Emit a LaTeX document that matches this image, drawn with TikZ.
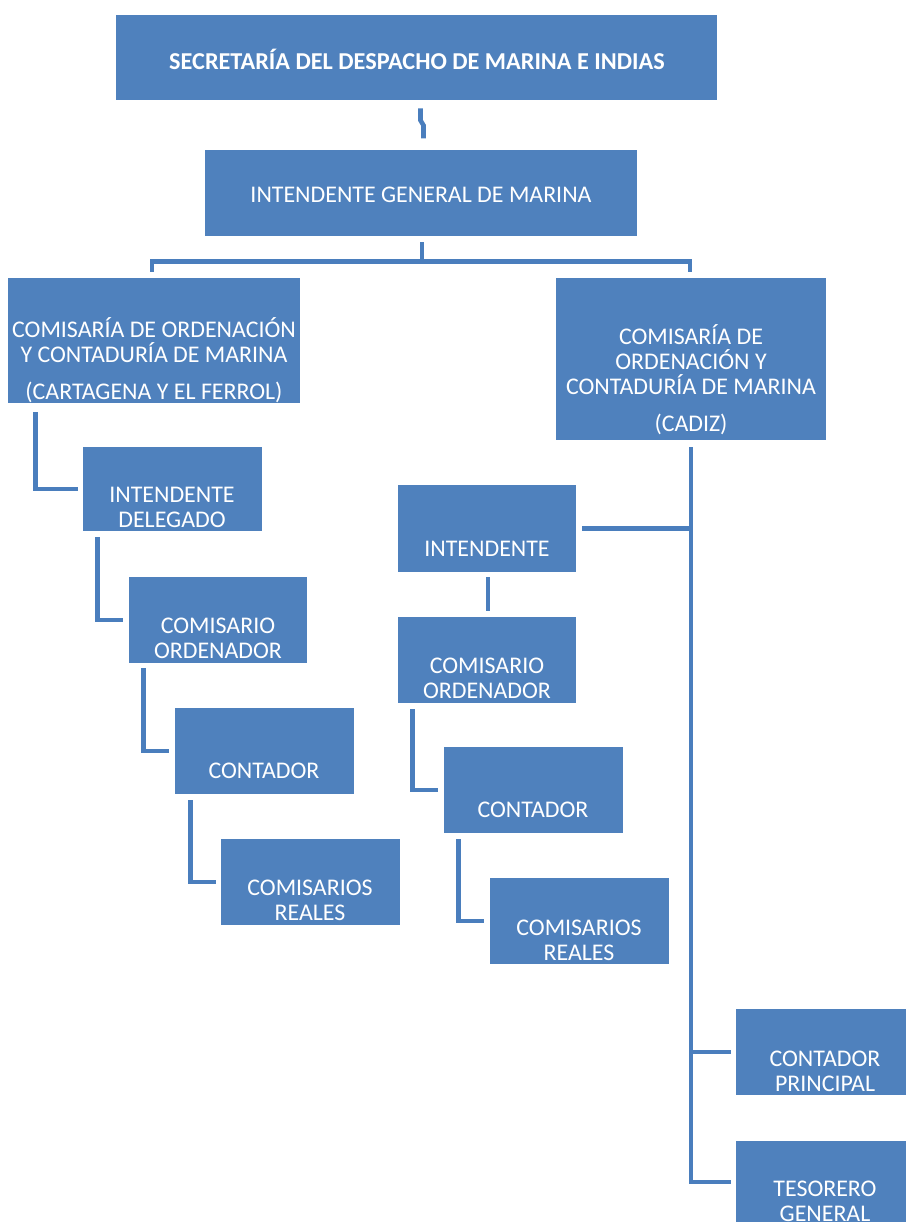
\documentclass[tikz,border=0pt]{standalone}
\usepackage{fontspec}
\setmainfont{Carlito}
\usetikzlibrary{calc,fit}

\definecolor{boxblue}{RGB}{79,129,189}
\definecolor{lineblue}{RGB}{74,126,189}

\tikzset{
	box/.style={fill=boxblue, inner sep=0pt},
	txt/.style={text=white, align=center, inner sep=0pt, font=\fontsize{13.6}{14.2}\selectfont},
	conn/.style={draw=lineblue, line width=2.6pt},
}

\begin{document}
\begin{tikzpicture}[x=0.02cm, y=-0.02cm]
	
	\useasboundingbox (0,0) rectangle (905,1222);
	
	% boxes
	\node[box, fit={(116,15) (717,100)}] (secr) {};
	\node[box, fit={(205,150) (637,236)}] (intgen) {};
	\node[box, fit={(8,278) (300,403)}] (comisl) {};
	\node[box, fit={(556,278) (826,440)}] (comisr) {};
	
	\node[box, fit={(83,447) (262,531)}] (deleg) {};
	\node[box, fit={(129,577) (307,663)}] (ordl) {};
	\node[box, fit={(175,708) (354,794)}] (contl) {};
	\node[box, fit={(221,839) (400,925)}] (reall) {};
	
	\node[box, fit={(398,485) (576,572)}] (intd) {};
	\node[box, fit={(398,617) (576,703)}] (ordr) {};
	\node[box, fit={(444,747) (623,833)}] (contr) {};
	\node[box, fit={(490,878) (669,964)}] (realr) {};
	
	\node[box, fit={(736,1009) (915,1095)}] (contp) {};
	\node[box, fit={(736,1141) (915,1227)}] (teso) {};
	
	% texts
	\node[txt, font=\fontsize{13.8}{14.2}\selectfont\bfseries] (secrt) at (417,59) {SECRETARÍA DEL DESPACHO DE MARINA E INDIAS};
	\node[txt] (intgent) at (421,195) {INTENDENTE GENERAL DE MARINA};
	\node[txt] (comislt) at (154,360) {COMISARÍA DE ORDENACIÓN\\ Y CONTADURÍA DE MARINA\\[6.8pt] (CARTAGENA Y EL FERROL)};
	\node[txt] (comisrt) at (691,380) {COMISARÍA DE\\ ORDENACIÓN Y\\ CONTADURÍA DE MARINA\\[7pt] (CADIZ)};
	
	\node[txt] (delegt) at (172,507) {INTENDENTE\\ DELEGADO};
	\node[txt] (ordlt) at (218,638) {COMISARIO\\ ORDENADOR};
	\node[txt] (contlt) at (264,771) {CONTADOR};
	\node[txt] (reallt) at (310,900) {COMISARIOS\\ REALES};
	
	\node[txt] (intdt) at (487,549) {INTENDENTE};
	\node[txt] (ordrt) at (487,678) {COMISARIO\\ ORDENADOR};
	\node[txt] (contrt) at (533,810) {CONTADOR};
	\node[txt] (realrt) at (579,940) {COMISARIOS\\ REALES};
	
	\node[txt] (contpt) at (825,1071) {CONTADOR\\ PRINCIPAL};
	\node[txt] (tesot) at (825,1201) {TESORERO\\ GENERAL};
	
	% top connectors
	\draw[conn] ($(secr.south)+(4,8)$) -- ++(0,12) -- ++(3,5) -- ++(0,13);
	\draw[conn] ($(intgen.south)+(1,6)$) -- ($(intgen.south)+(1,26)$);
	\draw[conn] ($(comisl.north)+(-2,-6)$) -- ($(comisl.north)+(-2,-16)$) -| ($(comisr.north)+(-1,-6)$);
	
	% left chain
	\draw[conn] ($(comisl.south west)+(28,9)$) |- ($(deleg.west)+(-5,0)$);
	\draw[conn] ($(deleg.south west)+(15,6)$) |- ($(ordl.west)+(-6,0)$);
	\draw[conn] ($(ordl.south west)+(15,5)$) |- ($(contl.west)+(-6,0)$);
	\draw[conn] ($(contl.south west)+(16,6)$) |- ($(reall.west)+(-5,0)$);
	
	% right chain
	\draw[conn] ($(comisr.south)+(0,7)$) |- ($(teso.west)+(-5,-2)$);
	\draw[conn] ($(intd.east)+(6,0)$) -- (intd.east -| comisr.south);
	\draw[conn] ($(contp.west)+(-5,0)$) -- (contp.west -| comisr.south);
	\draw[conn] ($(intd.south)+(1,5)$) -- ($(ordr.north)+(1,-6)$);
	\draw[conn] ($(ordr.south west)+(15,6)$) |- ($(contr.west)+(-6,0)$);
	\draw[conn] ($(contr.south west)+(15,6)$) |- ($(realr.west)+(-6,0)$);
	
\end{tikzpicture}
\end{document}
